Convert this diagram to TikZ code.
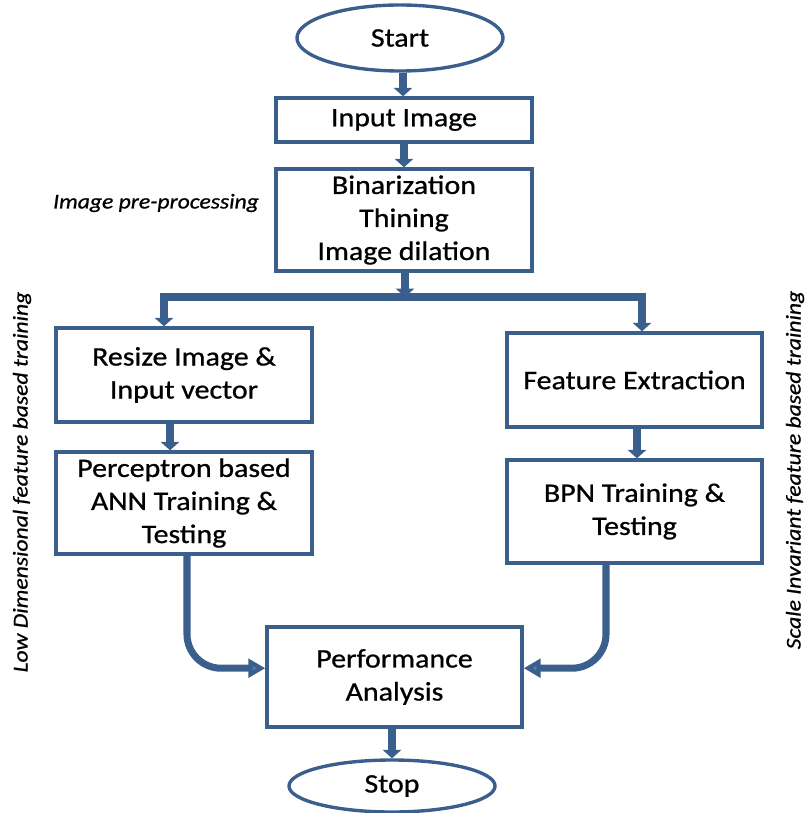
\documentclass[tikz,border=0pt]{standalone}
\usepackage{fontspec}
\setmainfont{Carlito}[FakeStretch=1.12, FakeBold=0.8]
\usetikzlibrary{shapes.geometric, arrows.meta}
\definecolor{flowblue}{RGB}{59,95,141}
\definecolor{tipblue}{RGB}{79,129,189}

\begin{document}
\begin{tikzpicture}[
        x=0.025cm, y=-0.025cm,
        box/.style={rectangle, draw=flowblue, line width=2.4pt, minimum width=6.4cm, align=center, inner sep=2pt, font=\fontsize{19}{23.5}\selectfont},
        term/.style={ellipse, draw=flowblue, line width=2.4pt, minimum width=5.15cm, inner sep=0pt, font=\fontsize{19}{23.5}\selectfont},
        arr/.style={draw=flowblue, line width=5pt, -{Triangle[length=6pt, width=13pt]}},
        curvedarr/.style={draw=flowblue, line width=5pt, rounded corners=0.85cm, -{Triangle[length=12pt, width=13pt, fill=tipblue]}},
        side/.style={font=\fontsize{15}{18}\selectfont\itshape}
        ]
        \useasboundingbox (0,0) rectangle (808,813);

        % Top of the chart
        \node[term, minimum height=1.65cm] (start) at (400,38) {Start};
        \node[box, minimum height=1.1cm] (input) at (404,120) {Input Image};
        \node[box, minimum height=2.55cm] (prep) at (404,220) {Binarization\\Thining\\Image dilation};
        \node[side] (preplabel) at (156,203) {Image pre-processing};

        % Left branch
        \node[box, minimum height=2.35cm] (resize) at (184,375) {Resize Image \&\\Input vector};
        \node[box, minimum height=2.55cm] (percep) at (184,503) {Perceptron based\\ANN Training \&\\Testing};
        \node[side, rotate=90] (lowlabel) at (22,482) {Low Dimensional feature based training};

        % Right branch
        \node[box, minimum width=6.375cm, minimum height=2.35cm] (feature) at (634.5,380) {Feature Extraction};
        \node[box, minimum width=6.375cm, minimum height=2.575cm] (bpn) at (634.5,511.5) {BPN Training \&\\Testing};
        \node[side, rotate=90] (scalelabel) at (795,470) {Scale Invariant feature based training};

        % Bottom of the chart
        \node[box, minimum width=6.375cm, minimum height=2.5cm] (perf) at (394.5,677) {Performance\\Analysis};
        \node[term, minimum height=1.3cm] (stop) at (392,786) {Stop};

        % Split point under the pre-processing box
        \coordinate (split) at (405,297);
        \coordinate (splitL) at (164,297);
        \coordinate (splitR) at (642,297);

        \draw[arr] (start.south -| 403,0) -- (input.north -| 403,0);
        \draw[arr] (input.south) -- (prep.north);
        \draw[arr] (prep.south -| split) -- (split);
        \draw[draw=flowblue, line width=5pt] ([xshift=-2.5pt]splitL) -- ([xshift=2.5pt]splitR);
        \draw[arr] (splitL) -- (resize.north -| splitL);
        \draw[arr] (splitR) -- (feature.north -| splitR);
        \draw[arr] (resize.south -| 170,0) -- (percep.north -| 170,0);
        \draw[arr] (feature.south -| 637,0) -- (bpn.north -| 637,0);
        \draw[curvedarr] (percep.south -| 187,0) |- ([yshift=0.22cm]perf.west);
        \draw[curvedarr] (bpn.south -| 606,0) |- ([yshift=0.22cm]perf.east);
        \draw[arr] (perf.south -| stop.north) -- (stop.north);
\end{tikzpicture}
\end{document}
